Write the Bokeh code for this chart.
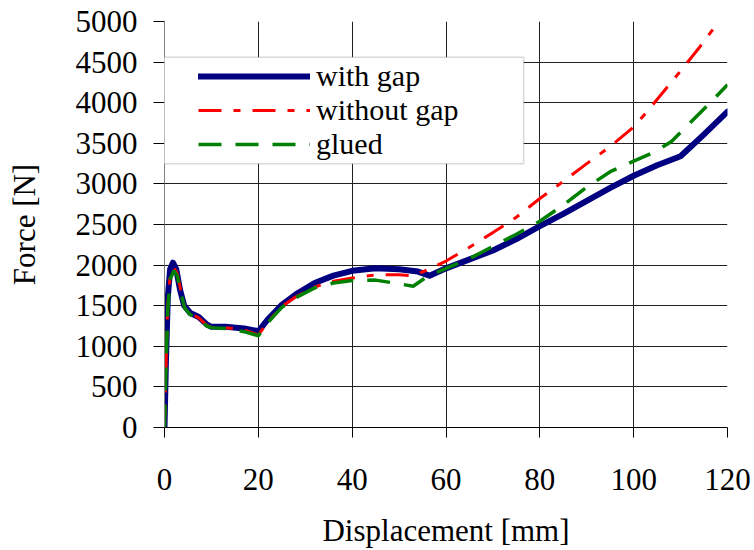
from bokeh.plotting import figure
from bokeh.models import Legend, LegendItem, BoxAnnotation, FixedTicker, Range1d
from bokeh.embed import file_html
from bokeh.resources import INLINE

# ---- data ----
disp_gap = [0, 0.3, 0.7, 1.2, 1.8, 2.5, 3.3, 4.2, 5.5, 7.3, 9, 10, 13, 17, 20, 22, 25, 28, 32, 36,
            40, 45, 50, 54, 56.5, 60, 65, 70, 75, 80, 85, 90, 95, 100, 105, 110, 115, 120]
force_gap = [0, 800, 1600, 1950, 2030, 1950, 1700, 1500, 1410, 1360, 1270, 1240, 1240, 1220, 1185,
             1330, 1510, 1640, 1780, 1870, 1930, 1960, 1950, 1920, 1870, 1960, 2070, 2180, 2320,
             2480, 2630, 2790, 2950, 3100, 3230, 3340, 3610, 3890]

disp_nogap = [0, 0.3, 0.7, 1.2, 2.0, 2.7, 3.5, 4.3, 5.5, 7.3, 9, 10, 13, 17, 20, 22, 25, 28, 32, 36,
              40, 45, 50, 53, 56, 60, 65, 70, 75, 80, 85, 90, 95, 100, 103, 106, 110, 114, 117.5]
force_nogap = [0, 700, 1500, 1880, 1970, 1900, 1680, 1480, 1400, 1350, 1260, 1230, 1230, 1200, 1140,
               1300, 1490, 1610, 1730, 1800, 1840, 1880, 1880, 1870, 1940, 2050, 2220, 2400, 2590,
               2820, 3030, 3250, 3460, 3700, 3900, 4110, 4390, 4680, 4950]

disp_glued = [0, 0.3, 0.7, 1.2, 2.0, 2.7, 3.5, 4.3, 5.5, 7.3, 9, 10, 13, 17, 20, 22, 25, 28, 32, 36,
              40, 45, 50, 53, 56, 60, 65, 70, 75, 80, 85, 90, 95, 100, 104, 108, 112, 116, 120]
force_glued = [0, 700, 1450, 1830, 1930, 1870, 1660, 1470, 1390, 1340, 1250, 1230, 1220, 1180, 1130,
               1290, 1480, 1600, 1720, 1780, 1810, 1815, 1770, 1740, 1860, 1960, 2080, 2230, 2380,
               2540, 2740, 2960, 3150, 3280, 3380, 3520, 3750, 3980, 4220]

series_labels = ["with gap", "without gap", "glued"]
x_ticks = [0, 20, 40, 60, 80, 100, 120]
y_ticks = [0, 500, 1000, 1500, 2000, 2500, 3000, 3500, 4000, 4500, 5000]
x_title = "Displacement [mm]"
y_title = "Force [N]"

FONT = "Liberation Serif"

p = figure(width=754, height=550, output_backend="svg", toolbar_location=None,
           x_range=Range1d(0, 120), y_range=Range1d(0, 5000),
           min_border_left=164, min_border_right=27, min_border_top=21, min_border_bottom=122)
p.outline_line_color = None
p.background_fill_color = "white"

r_gap = p.line(disp_gap, force_gap, line_color="#000080", line_width=6, line_join="round", line_cap="round")
r_nogap = p.line(disp_nogap, force_nogap, line_color="#FF0000", line_width=3, line_dash="23 12 7 12")
r_glued = p.line(disp_glued, force_glued, line_color="#008000", line_width=3.5, line_dash="23 14")

# axes
p.xaxis.ticker = FixedTicker(ticks=x_ticks)
p.yaxis.ticker = FixedTicker(ticks=y_ticks)
for ax in (p.xaxis[0], p.yaxis[0]):
    ax.major_label_text_font = FONT
    ax.major_label_text_font_size = "31px"
    ax.major_label_text_color = "black"
    ax.axis_label_text_font = FONT
    ax.axis_label_text_font_size = "31px"
    ax.axis_label_text_font_style = "normal"
    ax.axis_label_text_color = "black"
    ax.major_tick_in = 0
    ax.minor_tick_line_color = None
    ax.major_tick_line_color = "black"
    ax.major_tick_line_width = 1
p.xaxis.axis_label = x_title
p.yaxis.axis_label = y_title
p.xaxis.major_tick_out = 10
p.yaxis.major_tick_out = 11
p.xaxis.axis_line_color = "black"
p.yaxis.axis_line_color = "#808080"
p.xaxis.major_label_standoff = 31
p.yaxis.major_label_standoff = 16
p.xaxis.axis_label_standoff = 20
p.yaxis.axis_label_standoff = 31

p.xgrid.ticker = FixedTicker(ticks=x_ticks)
p.ygrid.ticker = FixedTicker(ticks=y_ticks)
for g in (p.xgrid[0], p.ygrid[0]):
    g.grid_line_color = "#202020"
    g.grid_line_width = 1

# legend frame
box = BoxAnnotation(left=-1.6, right=76.55, top=4561, bottom=3247,
                    fill_color="white", fill_alpha=1.0,
                    line_color="#808080", line_width=1.5)
p.add_layout(box)

legend = Legend(items=[LegendItem(label=series_labels[0], renderers=[r_gap]),
                       LegendItem(label=series_labels[1], renderers=[r_nogap]),
                       LegendItem(label=series_labels[2], renderers=[r_glued])],
                location=(34, 266), padding=2, spacing=0, margin=0,
                border_line_color=None, background_fill_alpha=0,
                glyph_width=112, glyph_height=30, label_height=30, label_standoff=6,
                label_text_font=FONT, label_text_font_size="30px", label_text_color="black")
p.add_layout(legend)

open("out.html", "w").write(file_html(p, INLINE))
